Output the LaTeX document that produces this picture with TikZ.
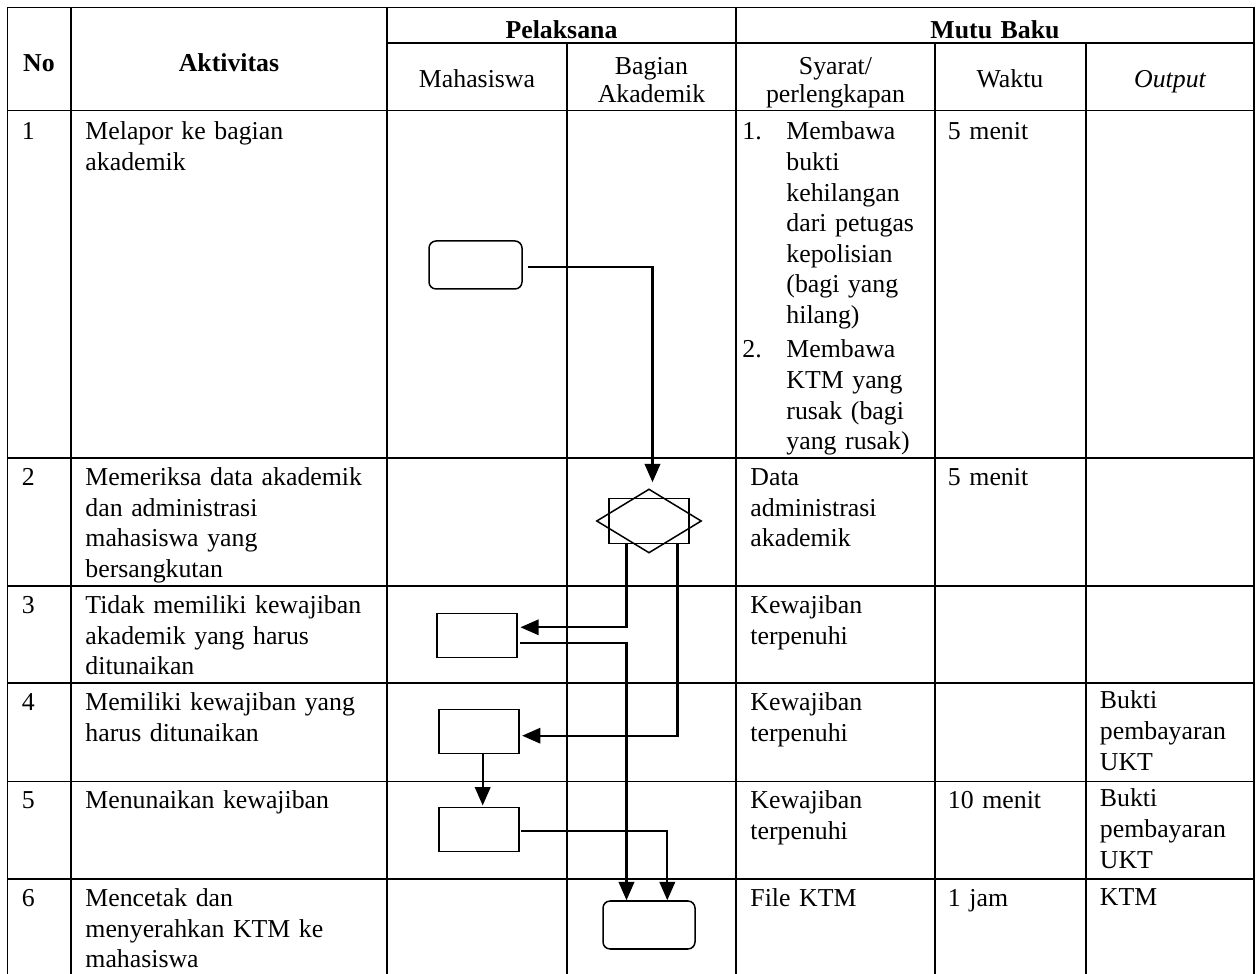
\documentclass[tikz,border=0pt]{standalone}
\usepackage{fontspec}
\setmainfont{Liberation Serif}
\usetikzlibrary{arrows.meta,calc,shapes.geometric}
\newcommand{\pxu}{0.465pt}
\begin{document}
\begin{tikzpicture}[x=0.465pt,y=-0.465pt,
  rule/.style={line width=0.75pt, line cap=rect},
  txt/.style={inner sep=0pt, font=\fontsize{12pt}{14.2pt}\selectfont},
  cell/.style={txt, anchor=base west, align=left, text width=160pt},
  head/.style={txt, anchor=base, align=center, text width=90pt},
  head2/.style={head, font=\fontsize{12pt}{13pt}\selectfont},
  shapeline/.style={draw, line width=0.7pt, inner sep=0pt},
  procbox/.style={shapeline, rectangle, minimum width=80*\pxu, minimum height=44*\pxu},
  termbox/.style={shapeline, rectangle, rounded corners=3.3pt, minimum width=92*\pxu, minimum height=48*\pxu},
  flow/.style={line width=0.95pt, -{Triangle[length=8.5pt,width=7.2pt]}}
]
\useasboundingbox (0,0) rectangle (1257,974);

% table grid
\draw[rule] (7.5,7.5) -- (1254,7.5);
\draw[rule] (387,43) -- (1254,43);
\draw[rule] (7.5,110.5) -- (1254,110.5);
\foreach \y in {458,586,683,781.5,879}
  \draw[rule] (7.5,\y) -- (1254,\y);
\foreach \x in {7.5,71,387,736,1254}
  \draw[rule] (\x,7.5) -- (\x,985);
\foreach \x in {567,935,1086}
  \draw[rule] (\x,43) -- (\x,985);

% header
\node[head] (hno) at (39,72) {\bfseries No};
\node[head] (hakt) at (229,72) {\bfseries Aktivitas};
\node[head] (hpel) at (561.5,38.5) {\bfseries Pelaksana};
\node[head] (hmutu) at (995,38.5) {\bfseries Mutu Baku};
\node[head] (hmhs) at (477,88) {Mahasiswa};
\node[head2] (hbag) at (651.5,75) {Bagian\\Akademik};
\node[head2] (hsya) at (835.5,75) {Syarat/\\perlengkapan};
\node[head] (hwak) at (1010,88) {Waktu};
\node[head] (hout) at (1170,88) {\itshape Output};

% row 1
\node[cell] (n1) at (21.5,140) {1};
\node[cell] (a1) at (85,140) {Melapor ke bagian\\akademik};
\node[cell] (s1i) at (742,140) {1.};
\node[cell] (s1t) at (786,140) {Membawa\\bukti\\kehilangan\\dari petugas\\kepolisian\\(bagi yang\\hilang)};
\node[cell] (s2i) at (742,358) {2.};
\node[cell] (s2t) at (786,358) {Membawa\\KTM yang\\rusak (bagi\\yang rusak)};
\node[cell] (w1) at (947.5,140) {5 menit};

% row 2
\node[cell] (n2) at (21.5,485.5) {2};
\node[cell] (a2) at (85,485.5) {Memeriksa data akademik\\dan administrasi\\mahasiswa yang\\bersangkutan};
\node[cell] (s2) at (750,485.5) {Data\\administrasi\\akademik};
\node[cell] (w2) at (947.5,485.5) {5 menit};

% row 3
\node[cell] (n3) at (21.5,613.5) {3};
\node[cell] (a3) at (85,613.5) {Tidak memiliki kewajiban\\akademik yang harus\\ditunaikan};
\node[cell] (s3) at (750,613.5) {Kewajiban\\terpenuhi};

% row 4
\node[cell] (n4) at (21.5,711) {4};
\node[cell] (a4) at (85,711) {Memiliki kewajiban yang\\harus ditunaikan};
\node[cell] (s4) at (750,711) {Kewajiban\\terpenuhi};
\node[cell] (o4) at (1099.5,709) {Bukti\\pembayaran\\UKT};

% row 5
\node[cell] (n5) at (21.5,809) {5};
\node[cell] (a5) at (85,809) {Menunaikan kewajiban};
\node[cell] (s5) at (750,809) {Kewajiban\\terpenuhi};
\node[cell] (w5) at (947.5,809) {10 menit};
\node[cell] (o5) at (1099.5,807) {Bukti\\pembayaran\\UKT};

% row 6
\node[cell] (n6) at (21.5,906.5) {6};
\node[cell] (a6) at (85,906.5) {Mencetak dan\\menyerahkan KTM ke\\mahasiswa};
\node[cell] (s6) at (750,906.5) {File KTM};
\node[cell] (w6) at (947.5,906.5) {1 jam};
\node[cell] (o6) at (1099.5,906) {KTM};

% flow symbols
\node[termbox, minimum width=93*\pxu] (start) at (475.5,265) {};
\node[shapeline, rectangle, minimum width=80*\pxu, minimum height=45*\pxu] (dec) at (649,521) {};
\node[shapeline, diamond, minimum width=105*\pxu, minimum height=64*\pxu] (decd) at (649,521) {};
\node[procbox] (box3) at (477,635.3) {};
\node[procbox] (box4) at (479,731.3) {};
\node[procbox] (box5) at (479,829.5) {};
\node[termbox] (endt) at (649,925) {};

% connectors
\draw[flow] ($(start.east)+(5,1.7)$) -| ($(decd.north)+(3.5,-6)$);
\draw[flow] ($(dec.south)+(-22.5,0)$) |- ($(box3.east)+(2.7,-8)$);
\draw[flow] ($(dec.south)+(28.5,0)$) |- ($(box4.east)+(2.4,4.4)$);
\draw[flow] ($(box3.east)+(2,8)$) -| ($(endt.north)+(-22.5,0)$);
\draw[flow] ($(box4.south)+(3.7,0)$) -- ($(box5.north)+(3.7,-1.3)$);
\draw[flow] ($(box5.east)+(1,1.5)$) -| ($(endt.north)+(18.3,0)$);
\end{tikzpicture}
\end{document}
